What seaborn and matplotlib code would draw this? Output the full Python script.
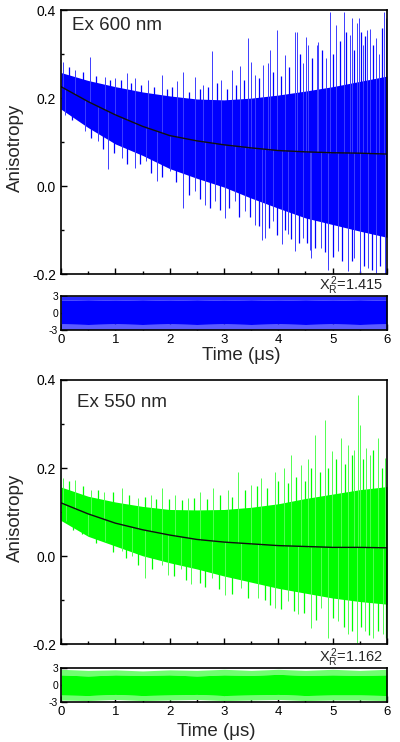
import numpy as np
import matplotlib
matplotlib.use("Agg")
import matplotlib.pyplot as plt
import seaborn as sns
from matplotlib.ticker import MultipleLocator, FormatStrFormatter

sns.set_style("ticks")
plt.rcParams["font.family"] = ["Liberation Sans", "DejaVu Sans"]
plt.rcParams["axes.unicode_minus"] = False
plt.rcParams["mathtext.fontset"] = "custom"
plt.rcParams["mathtext.rm"] = "Liberation Sans"
plt.rcParams["mathtext.it"] = "Liberation Sans"

# time grid (us) used for the fit curve and the dense part of the data band
t_grid = [0, 0.5, 1, 1.5, 2, 2.5, 3, 3.5, 4, 4.5, 5, 5.5, 6]

# Ex 600 nm
fit_600 = [0.226, 0.192, 0.162, 0.136, 0.115, 0.103, 0.094, 0.087, 0.081, 0.078, 0.076, 0.075, 0.073]
hi_600 = [0.258, 0.24, 0.226, 0.214, 0.205, 0.198, 0.196, 0.2, 0.207, 0.216, 0.226, 0.238, 0.25]
lo_600 = [0.175, 0.133, 0.096, 0.07, 0.04, 0.018, -0.002, -0.027, -0.05, -0.072, -0.087, -0.102, -0.116]
# tall spikes above / below the band
up600_t = [0.04, 0.26, 0.53, 0.81, 1.0, 1.21, 1.36, 1.6, 1.85, 2.13, 2.25, 2.46, 2.62, 2.77, 2.95,
           3.14, 3.29, 3.44, 3.49, 3.57, 3.72, 3.81, 3.85, 3.98, 4.12, 4.3, 4.34, 4.45, 4.51, 4.55,
           4.71, 4.73, 4.88, 4.96, 5.06, 5.2, 5.31, 5.36, 5.44, 5.48, 5.56, 5.64, 5.68, 5.79, 5.86,
           5.94, 5.99]
up600_v = [0.283, 0.264, 0.294, 0.249, 0.245, 0.257, 0.245, 0.24, 0.253, 0.238, 0.26, 0.249, 0.23, 0.306, 0.242,
           0.264, 0.272, 0.336, 0.282, 0.253, 0.275, 0.279, 0.309, 0.355, 0.298, 0.351, 0.351, 0.279, 0.339, 0.321,
           0.32, 0.328, 0.291, 0.396, 0.366, 0.396, 0.343, 0.382, 0.37, 0.382, 0.321, 0.355, 0.358, 0.336, 0.3,
           0.396, 0.381]
dn600_t = [0.07, 0.44, 0.69, 0.86, 1.12, 1.36, 1.57, 1.76, 2.0, 2.25, 2.46, 2.65, 2.83, 3.01, 3.2,
           3.38, 3.57, 3.7, 3.75, 3.9, 4.06, 4.18, 4.3, 4.45, 4.59, 4.61, 4.79, 4.91, 4.92, 5.1,
           5.28, 5.4, 5.5, 5.51, 5.65, 5.8, 5.96, 5.97]
dn600_v = [0.162, 0.125, 0.102, 0.038, 0.064, 0.042, 0.057, 0.011, 0.034, -0.049, -0.011, -0.042, -0.034, -0.072, -0.034,
           -0.057, -0.087, -0.122, -0.117, -0.079, -0.132, -0.109, -0.147, -0.117, -0.145, -0.162, -0.14, -0.177, -0.19, -0.147,
           -0.192, -0.162, -0.196, -0.197, -0.185, -0.196, -0.177, -0.2]
# shorter spikes along the band edges
eup600_t = [0.15, 0.4, 0.65, 0.9, 1.1, 1.28, 1.48, 1.72, 1.95, 2.05, 2.35, 2.55, 2.7, 2.87, 3.05, 3.22,
            3.36, 3.64, 3.9, 4.05, 4.2, 4.4, 4.62, 4.8, 5.0, 5.13, 5.25, 5.4, 5.52, 5.6, 5.74, 5.9]
eup600_v = [0.27, 0.26, 0.25, 0.24, 0.24, 0.235, 0.23, 0.225, 0.22, 0.225, 0.215, 0.22, 0.225, 0.235, 0.22, 0.23,
            0.24, 0.245, 0.26, 0.25, 0.27, 0.3, 0.29, 0.31, 0.3, 0.33, 0.35, 0.31, 0.35, 0.34, 0.32, 0.36]
edn600_t = [0.2, 0.55, 0.78, 0.98, 1.22, 1.45, 1.65, 1.85, 2.12, 2.35, 2.55, 2.75, 2.92, 3.1, 3.28, 3.47,
            3.65, 3.82, 3.98, 4.12, 4.24, 4.38, 4.52, 4.68, 4.85, 5.0, 5.18, 5.35, 5.58, 5.72, 5.88]
edn600_v = [0.15, 0.11, 0.085, 0.075, 0.05, 0.05, 0.03, 0.02, 0.01, -0.02, -0.03, -0.05, -0.055, -0.05, -0.07, -0.07,
            -0.09, -0.095, -0.11, -0.1, -0.12, -0.13, -0.13, -0.14, -0.15, -0.16, -0.17, -0.17, -0.18, -0.19, -0.18]

# Ex 550 nm
fit_550 = [0.121, 0.096, 0.075, 0.06, 0.048, 0.038, 0.032, 0.028, 0.024, 0.022, 0.02, 0.02, 0.019]
hi_550 = [0.157, 0.136, 0.123, 0.113, 0.106, 0.105, 0.106, 0.111, 0.119, 0.131, 0.141, 0.151, 0.158]
lo_550 = [0.081, 0.045, 0.023, 0.001, -0.015, -0.029, -0.045, -0.059, -0.073, -0.084, -0.095, -0.103, -0.109]
up550_t = [0.04, 0.26, 0.56, 0.8, 1.12, 1.42, 1.65, 1.85, 2.1, 2.34, 2.55, 2.8, 3.08, 3.26, 3.5,
           3.69, 3.93, 4.1, 4.24, 4.42, 4.55, 4.67, 4.85, 4.98, 5.16, 5.28, 5.4, 5.47, 5.5, 5.62,
           5.68, 5.83, 5.96]
up550_v = [0.177, 0.174, 0.151, 0.145, 0.155, 0.132, 0.14, 0.155, 0.14, 0.132, 0.145, 0.155, 0.151, 0.192, 0.162,
           0.177, 0.192, 0.2, 0.23, 0.208, 0.22, 0.275, 0.309, 0.238, 0.268, 0.253, 0.24, 0.366, 0.298, 0.245,
           0.23, 0.268, 0.223]
dn550_t = [0.1, 0.5, 0.81, 1.12, 1.3, 1.54, 1.85, 1.97, 2.2, 2.4, 2.77, 3.01, 3.32, 3.63, 3.93,
           4.18, 4.36, 4.61, 4.79, 4.91, 5.1, 5.28, 5.44, 5.59, 5.74, 5.93]
dn550_v = [0.079, 0.049, 0.034, 0.011, 0.0, -0.049, -0.019, -0.042, -0.03, -0.064, -0.049, -0.087, -0.072, -0.094, -0.117,
           -0.102, -0.132, -0.162, -0.117, -0.185, -0.147, -0.177, -0.196, -0.17, -0.185, -0.177]
eup550_t = [0.15, 0.4, 0.68, 0.95, 1.25, 1.55, 1.75, 1.98, 2.22, 2.45, 2.68, 2.92, 3.15, 3.38, 3.6,
            3.8, 4.0, 4.17, 4.33, 4.5, 4.6, 4.76, 4.92, 5.07, 5.22, 5.35, 5.56, 5.75, 5.9]
eup550_v = [0.17, 0.16, 0.15, 0.145, 0.14, 0.135, 0.13, 0.13, 0.128, 0.132, 0.13, 0.14, 0.135, 0.15, 0.16,
            0.155, 0.17, 0.165, 0.18, 0.17, 0.2, 0.19, 0.2, 0.22, 0.21, 0.23, 0.22, 0.24, 0.2]
edn550_t = [0.22, 0.38, 0.65, 0.95, 1.2, 1.42, 1.68, 2.08, 2.3, 2.55, 2.65, 2.9, 3.15, 3.45, 3.75,
            3.85, 4.05, 4.28, 4.48, 4.7, 5.0, 5.2, 5.36, 5.52, 5.66, 5.83, 5.98]
edn550_v = [0.06, 0.05, 0.03, 0.01, -0.005, -0.02, -0.03, -0.045, -0.055, -0.06, -0.07, -0.075, -0.085, -0.095, -0.1,
            -0.11, -0.12, -0.125, -0.13, -0.145, -0.14, -0.16, -0.17, -0.16, -0.18, -0.17, -0.185]

# weighted residuals: dense core, upper fringe and lower fringe
res600_out_hi = [3.0] * 13
res600_core_hi = [2.3, 2.2, 2.3, 2.2, 2.3, 2.2, 2.3, 2.2, 2.3, 2.2, 2.3, 2.2, 2.3]
res600_core_lo = [-2.0, -2.1, -2.0, -2.1, -2.0, -2.1, -2.0, -2.1, -2.0, -2.1, -2.0, -2.1, -2.0]
res600_out_lo = [-3.0] * 13
res550_out_hi = [2.8, 2.6, 2.7, 2.5, 2.7, 2.6, 2.8, 2.6, 2.8, 2.6, 2.8, 2.6, 2.8]
res550_core_hi = [1.8, 1.6, 1.8, 1.7, 1.8, 1.6, 1.8, 1.7, 1.9, 1.7, 1.8, 1.7, 1.8]
res550_core_lo = [-1.8, -1.9, -1.7, -1.9, -1.8, -1.7, -1.9, -1.8, -1.7, -1.9, -1.8, -1.8, -1.9]
res550_out_lo = [-2.7, -2.8, -2.6, -2.8, -2.7, -2.6, -2.8, -2.7, -2.6, -2.8, -2.7, -2.7, -2.8]

chi_600 = "1.415"
chi_550 = "1.162"

fig = plt.figure(figsize=(4, 7.42), dpi=100)
ax1 = fig.add_axes([0.1525, 0.6303, 0.815, 0.3562])
ax1r = fig.add_axes([0.1525, 0.5559, 0.815, 0.0452])
ax2 = fig.add_axes([0.1525, 0.1317, 0.815, 0.3562])
ax2r = fig.add_axes([0.1525, 0.0543, 0.815, 0.0452])


def spikes(ax, fit, tt, vv, col, lw):
    base = np.interp(tt, t_grid, fit)
    ax.vlines(tt, np.minimum(base, vv), np.maximum(base, vv), color=col, lw=lw)


def draw_main(ax, col, col_spk, fit, hi, lo, tall, edge):
    ax.fill_between(t_grid, lo, hi, color=col, lw=0)
    for tt, vv in edge:
        spikes(ax, fit, tt, vv, col, 0.9)
    for tt, vv in tall:
        spikes(ax, fit, tt, vv, col_spk, 0.7)
    sns.lineplot(x=t_grid, y=fit, ax=ax, color="#101010", lw=1.0)
    ax.set_xlim(0, 6)
    ax.set_ylim(-0.2, 0.4)
    ax.yaxis.set_major_locator(MultipleLocator(0.2))
    ax.yaxis.set_minor_locator(MultipleLocator(0.1))
    ax.yaxis.set_major_formatter(FormatStrFormatter("%.1f"))
    ax.xaxis.set_major_locator(MultipleLocator(1))
    ax.xaxis.set_minor_locator(MultipleLocator(0.5))
    ax.tick_params(axis="x", labelbottom=False)
    ax.tick_params(axis="y", labelsize=10)
    ax.set_ylabel("Anisotropy", fontsize=13.5)
    ax.yaxis.set_label_coords(-0.115, 0.48)


def draw_res(ax, col, col_top, col_bot, out_lo, core_lo, core_hi, out_hi):
    ax.fill_between(t_grid, core_hi, out_hi, color=col_top, lw=0)
    ax.fill_between(t_grid, out_lo, core_lo, color=col_bot, lw=0)
    ax.fill_between(t_grid, core_lo, core_hi, color=col, lw=0)
    ax.set_xlim(0, 6)
    ax.set_ylim(-3, 3)
    ax.set_yticks([-3, 0, 3])
    ax.xaxis.set_major_locator(MultipleLocator(1))
    ax.xaxis.set_minor_locator(MultipleLocator(0.5))
    ax.tick_params(axis="y", labelsize=7.5, pad=2)
    ax.tick_params(axis="x", labelsize=9.5, pad=3)


draw_main(ax1, "#0000ff", "#3c3cff", fit_600, hi_600, lo_600,
          [(up600_t, up600_v), (dn600_t, dn600_v)], [(eup600_t, eup600_v), (edn600_t, edn600_v)])
draw_main(ax2, "#00ff00", "#50ff50", fit_550, hi_550, lo_550,
          [(up550_t, up550_v), (dn550_t, dn550_v)], [(eup550_t, eup550_v), (edn550_t, edn550_v)])
draw_res(ax1r, "#0000ff", "#2a2aff", "#5c5cff", res600_out_lo, res600_core_lo, res600_core_hi, res600_out_hi)
draw_res(ax2r, "#00ff00", "#70ff70", "#70ff70", res550_out_lo, res550_core_lo, res550_core_hi, res550_out_hi)

for ax in (ax1, ax1r, ax2, ax2r):
    for s in ax.spines.values():
        s.set_linewidth(1.2)
        s.set_color("black")
    ax.tick_params(which="both", direction="in", top=False, right=False, width=1, colors="black")
    ax.tick_params(which="major", length=4)
    ax.tick_params(which="minor", length=2.5)
    ax.grid(False)

ax1.text(0.035, 0.94, "Ex 600 nm", transform=ax1.transAxes, fontsize=13.5, va="center", ha="left")
ax2.text(0.05, 0.915, "Ex 550 nm", transform=ax2.transAxes, fontsize=13.5, va="center", ha="left")

fig.text(0.958, 0.615, r"X$_R^{\,2}$=" + chi_600, ha="right", va="center", fontsize=10.5)
fig.text(0.958, 0.114, r"X$_R^{\,2}$=" + chi_550, ha="right", va="center", fontsize=10.5)

fig.text(241 / 400, 1 - 355 / 742, "Time (μs)", ha="center", va="center", fontsize=13.5)
fig.text(216 / 400, 1 - 731 / 742, "Time (μs)", ha="center", va="center", fontsize=13.5)

fig.savefig("out.png", dpi=100)
